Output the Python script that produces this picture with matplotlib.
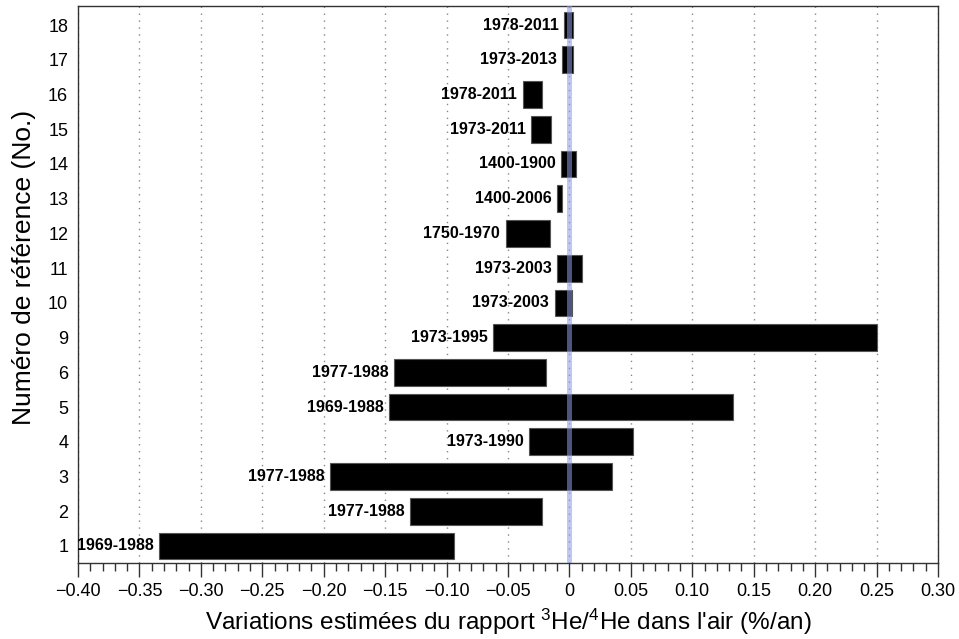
import numpy as np
import matplotlib.pyplot as plt
from matplotlib.ticker import MultipleLocator

# Dados
referencias = [1, 2, 3, 4, 5, 6, 9, 10, 11, 12, 13, 14, 15, 16, 17, 18]
inicio = [-0.334, -0.130, -0.195, -0.033, -0.147, -0.143, -0.062, -0.012,
          -0.010, -0.052, -0.010, -0.0065, -0.031, -0.038, -0.0057, -0.004]
fim = [-0.094, -0.022, 0.035, 0.052, 0.133, -0.019, 0.250, 0.002,
       0.010, -0.016, -0.006, 0.0055, -0.015, -0.022, 0.003, 0.0027]
periodos = ["1969-1988", "1977-1988", "1977-1988", "1973-1990", "1969-1988",
            "1977-1988", "1973-1995", "1973-2003", "1973-2003", "1750-1970",
            "1400-2006", "1400-1900", "1973-2011", "1978-2011", "1973-2013",
            "1978-2011"]
ticks_x = [-0.40, -0.35, -0.30, -0.25, -0.20, -0.15, -0.10, -0.05,
           0, 0.05, 0.10, 0.15, 0.20, 0.25, 0.30]
labels_x = ["\u22120.40", "\u22120.35", "\u22120.30", "\u22120.25", "\u22120.20",
            "\u22120.15", "\u22120.10", "\u22120.05", "0", "0.05", "0.10",
            "0.15", "0.20", "0.25", "0.30"]

plt.rcParams["font.family"] = ["Liberation Sans", "DejaVu Sans"]
plt.rcParams["mathtext.fontset"] = "custom"
plt.rcParams["mathtext.rm"] = "Liberation Sans"
plt.rcParams["mathtext.default"] = "regular"

fig = plt.figure(figsize=(9.59, 6.39), dpi=100)
ax = fig.add_axes([0.0813, 0.1185, 0.8968, 0.8721])

pos = np.arange(len(referencias))
inicio = np.array(inicio)
fim = np.array(fim)

# Barras
ax.barh(pos, fim - inicio, left=inicio, height=0.77, color="black",
        edgecolor="#555555", linewidth=0.8, zorder=2)

# Rótulos dos períodos
for y, x0, txt in zip(pos, inicio, periodos):
    ax.annotate(txt, xy=(x0, y), xytext=(-4, 0), textcoords="offset points",
                ha="right", va="center", fontsize=11.5, fontweight="bold",
                zorder=3)

# Linha do zero
ax.axvline(0, color="#8c9ce6", alpha=0.55, linewidth=3.6, zorder=4)

# Grelha vertical
for t in ticks_x:
    ax.axvline(t, color="#888888", linewidth=1, linestyle=(0, (1, 4)),
               zorder=1)

ax.set_xlim(-0.40, 0.30)
ax.set_ylim(-0.5, 15.55)

ax.set_xticks(ticks_x)
ax.set_xticklabels(labels_x, fontsize=13)
ax.xaxis.set_minor_locator(MultipleLocator(0.01))
ax.tick_params(axis="x", which="major", length=10, width=1, color="#333333",
               pad=4)
ax.tick_params(axis="x", which="minor", length=6, width=1, color="#333333")

ax.set_yticks(pos)
ax.set_yticklabels([str(r) for r in referencias], fontsize=13)
ax.tick_params(axis="y", length=0, pad=7)

for s in ax.spines.values():
    s.set_color("#333333")
    s.set_linewidth(1)

ax.set_xlabel("Variations estimées du rapport $^{3}$He/$^{4}$He dans l'air (%/an)",
              fontsize=17.5, labelpad=5)
ax.set_ylabel("Numéro de référence (No.)", fontsize=19)
ax.yaxis.set_label_coords(-0.049, 0.53)

fig.savefig("out.png", dpi=100)
